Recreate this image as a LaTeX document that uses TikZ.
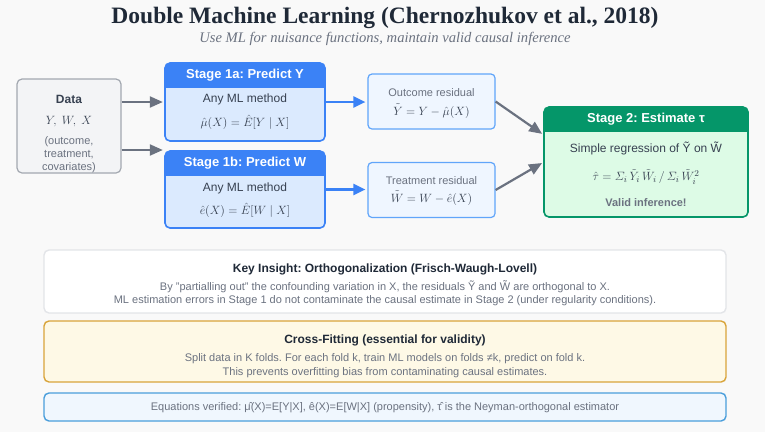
\documentclass[tikz,border=0pt]{standalone}
\usepackage{amsmath,amssymb}
\usepackage{fontspec}
\setmainfont{Liberation Sans}
\newfontfamily\serifhead{Liberation Serif}
\usetikzlibrary{arrows.meta,positioning,calc,fit}
\definecolor{bgc}{HTML}{F9F9F9}
\definecolor{txtdk}{HTML}{1F2937}
\definecolor{txtmid}{HTML}{374151}
\definecolor{txtgray}{HTML}{6B7280}
\definecolor{arrgray}{HTML}{6B7280}
\definecolor{datafill}{HTML}{F3F4F6}
\definecolor{dataline}{HTML}{A3A8B0}
\definecolor{sblue}{HTML}{3B82F6}
\definecolor{sbluelt}{HTML}{DBEAFE}
\definecolor{resline}{HTML}{60A5FA}
\definecolor{resfill}{HTML}{EFF6FF}
\definecolor{sgreen}{HTML}{059669}
\definecolor{sgreenlt}{HTML}{DDFBE6}
\definecolor{keyline}{HTML}{E3E5E8}
\definecolor{crossfill}{HTML}{FEF9E6}
\definecolor{crossline}{HTML}{D9A43A}
\definecolor{eqfill}{HTML}{F0F7FE}
\definecolor{eqline}{HTML}{4A9EDB}
\tikzset{
  hdrtxt/.style   = {text=white, font=\fontsize{13}{15}\selectfont\bfseries, inner sep=0pt},
  bodytxt/.style  = {text=txtmid, font=\fontsize{12}{14}\selectfont, inner sep=0pt},
  mathtxt/.style  = {text=txtmid, font=\fontsize{13}{15}\selectfont, inner sep=0pt},
  smalltxt/.style = {text=txtgray, font=\fontsize{11}{13}\selectfont, inner sep=0pt},
  notettl/.style  = {text=txtdk, font=\fontsize{12}{14}\selectfont\bfseries, inner sep=0pt},
  notetxt/.style  = {text=txtgray, font=\fontsize{11}{13}\selectfont, inner sep=0pt},
  databox/.style  = {draw=dataline, fill=datafill, line width=1.2pt, rounded corners=5pt,
                     minimum width=104pt, minimum height=94pt},
  resbox/.style   = {draw=resline, fill=resfill, line width=1.2pt, rounded corners=4pt,
                     minimum width=127pt, minimum height=55pt},
  notebox/.style  = {rounded corners=5pt, line width=1.4pt, minimum width=682pt},
  garr/.style     = {draw=arrgray, line width=2.2pt, shorten >=2pt,
                     -{Triangle[length=13pt,width=11pt]}},
  barr/.style     = {draw=sblue, line width=2.2pt, shorten >=2pt,
                     -{Triangle[length=12pt,width=11pt]}},
}
\newcommand{\hdrh}{25}
\newcommand{\hdrbox}[8]{%               % #1 = name, #2 = colour, #3 = fill, #4,#5 = top left, #6,#7 = bottom right, #8 = title
  \coordinate (#1-nw) at (#4,#5);
  \coordinate (#1-se) at (#6,#7);
  \fill[#3, rounded corners=5pt] (#1-nw) rectangle (#1-se);
  \begin{scope}
    \clip[rounded corners=5pt] (#1-nw) rectangle (#1-se);
    \fill[#2] (#4,#5) rectangle (#6,{#5+\hdrh});
  \end{scope}
  \draw[#2, line width=1.6pt, rounded corners=5pt] (#1-nw) rectangle (#1-se);
  \node[fit=(#1-nw)(#1-se), inner sep=0pt] (#1) {};
  \node[hdrtxt] (#1-hd) at ({(#4+#6)/2},{#5+\hdrh/2}) {#8};}
\frenchspacing

\begin{document}
\begin{tikzpicture}[x=1pt,y=-1pt]
  \fill[bgc] (0,0) rectangle (765,432);
  \useasboundingbox (0,0) rectangle (765,432);

  % title
  \node[text=txtdk, font=\serifhead\fontsize{23.5}{26}\selectfont\bfseries] (title) at (385,18)
    {Double Machine Learning (Chernozhukov et al., 2018)};
  \node[text=txtgray, font=\serifhead\fontsize{14.6}{17}\selectfont\itshape] (subtitle) at (385,39)
    {Use ML for nuisance functions, maintain valid causal inference};

  % data
  \node[databox] (data) at (69,126) {};
  \node[bodytxt, font=\fontsize{12}{14}\selectfont\bfseries] (datattl) at (69,99) {Data};
  \node[mathtxt] (datavars) at (69,122) {$Y,\; W,\; X$};
  \node[smalltxt, align=center, font=\fontsize{11}{13}\selectfont] (datadesc) at (69,155)
    {(outcome,\\treatment,\\covariates)};

  % stage 1
  \hdrbox{s1a}{sblue}{sbluelt}{165}{63}{325}{141}{Stage 1a: Predict Y}
  \node[bodytxt] (s1a-m) at (245,99) {Any ML method};
  \node[mathtxt] (s1a-f) at (245,122) {$\hat{\mu}(X) = \hat{E}[Y \mid X]$};
  \hdrbox{s1b}{sblue}{sbluelt}{165}{151}{325}{228}{Stage 1b: Predict W}
  \node[bodytxt] (s1b-m) at (245,188) {Any ML method};
  \node[mathtxt] (s1b-f) at (245,210) {$\hat{e}(X) = \hat{E}[W \mid X]$};

  % residuals
  \node[resbox] (outres) at (431.5,101.5) {};
  \node[smalltxt] (outres-l) at (431.5,93) {Outcome residual};
  \node[mathtxt] (outres-f) at (431.5,111) {$\tilde{Y} = Y - \hat{\mu}(X)$};
  \node[resbox] (trtres) at (431.5,190) {};
  \node[smalltxt] (trtres-l) at (431.5,181) {Treatment residual};
  \node[mathtxt] (trtres-f) at (431.5,198) {$\tilde{W} = W - \hat{e}(X)$};

  % stage 2
  \hdrbox{s2}{sgreen}{sgreenlt}{544}{107}{748}{217}{Stage 2: Estimate τ}
  \node[bodytxt] (s2-m) at (646,148) {Simple regression of \~{Y} on \~{W}};
  \node[mathtxt] (s2-f) at (646,177)
    {$\hat{\tau} = \varSigma_i\, \tilde{Y}_i\, \tilde{W}_i \,/\, \varSigma_i\, \tilde{W}_i^2$};
  \node[bodytxt, text=txtgray, font=\fontsize{11}{13}\selectfont\bfseries] (s2-v) at (646,203)
    {Valid inference!};

  % arrows
  \draw[garr] ([yshift=24pt]data.east) -- ([yshift=24pt]data.east -| s1a.west);
  \draw[garr] ([yshift=-24pt]data.east) -- ([yshift=-24pt]data.east -| s1b.west);
  \draw[barr] (s1a.east) -- (s1a.east -| outres.west);
  \draw[barr] (s1b.east) -- (s1b.east -| trtres.west);
  \draw[garr] (outres.east) -- ([yshift=27pt]s2.west);
  \draw[garr] (trtres.east) -- (s2.west);

  % notes
  \node[notebox, draw=keyline, fill=white, minimum height=63pt] (keybox) at (385,281.5) {};
  \node[notettl] (key-t) at (385,269) {Key Insight: Orthogonalization (Frisch-Waugh-Lovell)};
  \node[notetxt] (key-1) at (385,287)
    {By "partialling out" the confounding variation in X, the residuals \~{Y} and \~{W} are orthogonal to X.};
  \node[notetxt] (key-2) at (385,301)
    {ML estimation errors in Stage 1 do not contaminate the causal estimate in Stage 2 (under regularity conditions).};

  \node[notebox, draw=crossline, fill=crossfill, minimum height=61pt] (crossbox) at (385,351.5) {};
  \node[notettl] (cross-t) at (385,340) {Cross-Fitting (essential for validity)};
  \node[notetxt] (cross-1) at (385,359)
    {Split data in K folds. For each fold k, train ML models on folds ≠k, predict on fold k.};
  \node[notetxt] (cross-2) at (385,373)
    {This prevents overfitting bias from contaminating causal estimates.};

  \node[notebox, draw=eqline, fill=eqfill, minimum height=28pt] (eqbox) at (385,407) {};
  \node[notetxt] (eq-t) at (385,408)
    {Equations verified: \^{μ}(X)=E[Y|X], ê(X)=E[W|X] (propensity), \^{τ} is the Neyman-orthogonal estimator};
\end{tikzpicture}
\end{document}
